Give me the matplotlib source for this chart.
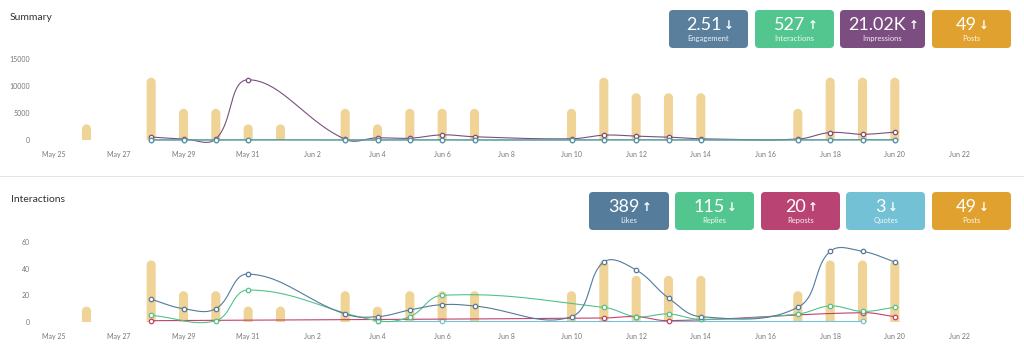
import numpy as np
import matplotlib
matplotlib.use("Agg")
import matplotlib.pyplot as plt
from matplotlib.path import Path
from matplotlib.patches import PathPatch, FancyBboxPatch

plt.rcParams['font.family'] = ['Lato', 'DejaVu Sans']

# days counted from May 25
tick_days = list(range(0, 29, 2))
tick_labels = ["May 25", "May 27", "May 29", "May 31", "Jun 2", "Jun 4", "Jun 6", "Jun 8",
               "Jun 10", "Jun 12", "Jun 14", "Jun 16", "Jun 18", "Jun 20", "Jun 22"]

post_days = [1, 3, 4, 5, 6, 7, 9, 10, 11, 12, 13, 16, 17, 18, 19, 20, 23, 24, 25, 26]
posts = [1, 4, 2, 2, 1, 1, 2, 1, 2, 2, 2, 2, 4, 3, 3, 3, 2, 4, 4, 4]

data_days = [3, 4, 5, 6, 9, 10, 11, 12, 13, 16, 17, 18, 19, 20, 23, 24, 25, 26]
impressions = [550, 200, 200, 11150, 130, 400, 330, 950, 600, 230, 900, 720, 540, 220, 180, 1380, 1060, 1450]
interactions = [23, 10, 11, 60, 6, 6, 13, 34, 12, 4, 59, 47, 25, 6, 17, 65, 69, 60]
engagement = [4.2, 5.0, 5.5, 0.5, 4.6, 1.5, 3.9, 3.6, 2.0, 1.7, 6.6, 6.5, 4.6, 2.7, 9.4, 4.7, 6.5, 4.1]

nan = np.nan
likes = [17, 10, 10, 36, 6, 4, 9, 13, 12, 4, 45, 39, 18, 4, 11, 53, 53, 45]
replies = [5, nan, 1, 24, nan, 1, 4, 20, nan, nan, 11, 4, 6, 2, 6, 12, 8, 11]
reposts = [1, nan, nan, nan, nan, nan, nan, nan, nan, nan, 3, 4, 1, nan, nan, nan, 7, 4]
quotes = [nan, nan, nan, nan, nan, 1, nan, 1, nan, nan, nan, nan, nan, nan, nan, nan, 1, nan]

summary_cards = [("2.51", "↓", "Engagement", "#5a7f9d"),
                 ("527", "↑", "Interactions", "#53c68f"),
                 ("21.02K", "↑", "Impressions", "#7b4d80"),
                 ("49", "↓", "Posts", "#e0a12f")]
inter_cards = [("389", "↑", "Likes", "#567c9b"),
               ("115", "↓", "Replies", "#53c68f"),
               ("20", "↑", "Reposts", "#b94474"),
               ("3", "↓", "Quotes", "#72c1d4"),
               ("49", "↓", "Posts", "#e0a12f")]

W, H = 1024, 356
fig = plt.figure(figsize=(W / 100, H / 100), dpi=100)

# overlay in pixel units for titles, cards, separator
bg = fig.add_axes([0, 0, 1, 1])
bg.set_xlim(0, W)
bg.set_ylim(H, 0)
bg.axis("off")

bar_color = "#efd397"


def px_axes(x0, x1, y_top, y_bot):
    return [x0 / W, 1 - y_bot / H, (x1 - x0) / W, (y_bot - y_top) / H]


def spline(ax, xs, ys, t=0.4, n=40):
    xs = np.asarray(xs, float)
    ys = np.asarray(ys, float)
    ok = ~np.isnan(ys)
    xs, ys = xs[ok], ys[ok]
    o = ax.transData.transform([[0, 0]])[0]
    sx = ax.transData.transform([[1, 0]])[0][0] - o[0]
    sy = ax.transData.transform([[0, 1]])[0][1] - o[1]
    P = np.column_stack([xs * sx, ys * sy])
    m = len(P)
    prev_c = np.zeros_like(P)
    next_c = np.zeros_like(P)
    for i in range(m):
        p0 = P[i - 1] if i > 0 else P[i]
        p1 = P[i]
        p2 = P[i + 1] if i < m - 1 else P[i]
        d01 = np.hypot(*(p1 - p0))
        d12 = np.hypot(*(p2 - p1))
        tot = d01 + d12
        s01 = d01 / tot if tot else 0
        s12 = d12 / tot if tot else 0
        prev_c[i] = p1 - t * s01 * (p2 - p0)
        next_c[i] = p1 + t * s12 * (p2 - p0)
    out = [P[:1]]
    u = np.linspace(0, 1, n)[:, None]
    for i in range(m - 1):
        a, b, c, d = P[i], next_c[i], prev_c[i + 1], P[i + 1]
        seg = (1 - u) ** 3 * a + 3 * (1 - u) ** 2 * u * b + 3 * (1 - u) * u ** 2 * c + u ** 3 * d
        out.append(seg[1:])
    pts = np.vstack(out)
    return pts[:, 0] / sx, pts[:, 1] / sy, xs, ys


def draw_series(ax, xs, ys, color, z):
    cx, cy, px, py = spline(ax, xs, ys)
    ax.plot(cx, cy, color=color, lw=0.8, zorder=z, clip_on=False)
    ax.plot(px, py, "o", ms=3.2, mfc="white", mec=color, mew=0.9, zorder=z + 0.5, clip_on=False)


def rounded_bars(ax, xs, hs, width):
    bars = ax.bar(xs, hs, width=width, color=bar_color)
    o = ax.transData.transform([[0, 0]])[0]
    sx = ax.transData.transform([[1, 0]])[0][0] - o[0]
    sy = ax.transData.transform([[0, 1]])[0][1] - o[1]
    k = 0.5523
    for r in bars:
        x, w, h = r.get_x(), r.get_width(), r.get_height()
        rx = w / 2
        ry = rx * sx / sy
        verts = [(x, 0), (x, h - ry),
                 (x, h - ry + k * ry), (x + rx - k * rx, h), (x + rx, h),
                 (x + rx + k * rx, h), (x + w, h - ry + k * ry), (x + w, h - ry),
                 (x + w, 0), (x, 0)]
        codes = [Path.MOVETO, Path.LINETO,
                 Path.CURVE4, Path.CURVE4, Path.CURVE4,
                 Path.CURVE4, Path.CURVE4, Path.CURVE4,
                 Path.LINETO, Path.CLOSEPOLY]
        ax.add_patch(PathPatch(Path(verts, codes), facecolor=bar_color, edgecolor="none"))
        r.set_visible(False)


def chart(y_top, y_bot, ymax, yticks):
    pos = px_axes(38, 1008, y_top, y_bot)
    axb = fig.add_axes(pos)
    axb.set_xlim(-0.5, 29.5)
    axb.set_ylim(0, 5.2)
    axb.axis("off")
    rounded_bars(axb, post_days, posts, 0.28)

    ax = fig.add_axes(pos)
    ax.patch.set_visible(False)
    ax.set_xlim(-0.5, 29.5)
    ax.set_ylim(0, ymax)
    for s in ax.spines.values():
        s.set_visible(False)
    ax.axhline(0, color="#dddddd", lw=0.8, zorder=0.5)
    ax.set_xticks(tick_days)
    ax.set_xticklabels(tick_labels)
    ax.set_yticks(yticks)
    ax.tick_params(length=0, labelsize=5, labelcolor="#777777")
    ax.tick_params(axis="x", pad=8)
    ax.tick_params(axis="y", pad=6)
    return ax


def cards(specs, y_top):
    if len(specs) == 4:
        xs, widths = [669, 755, 840, 932], [79, 79, 85, 79]
    else:
        xs, widths = [589, 675, 761, 846, 932], [80, 79, 79, 79, 79]
    for (val, arrow, label, col), x0, w in zip(specs, xs, widths):
        bg.add_patch(FancyBboxPatch((x0, y_top), w, 38, boxstyle="round,pad=0,rounding_size=4",
                                    facecolor=col, edgecolor="none"))
        cx = x0 + w / 2
        t = bg.text(cx - 5, y_top + 14.5, val, ha="center", va="center", color="white",
                    fontsize=13)
        bg.annotate(arrow, xy=(1, 0.5), xycoords=t, xytext=(1.5, -0.5), textcoords="offset points",
                    ha="left", va="center", color="white", fontsize=8.5, fontweight="bold",
                    family=["DejaVu Sans"])
        bg.text(cx, y_top + 28.5, label, ha="center", va="center", color="white", fontsize=5.5,
                alpha=0.9)


bg.text(10, 17, "Summary", ha="left", va="center", fontsize=7.5, color="#333333")
bg.text(11, 200, "Interactions", ha="left", va="center", fontsize=7.5, color="#333333")
bg.plot([0, W], [176, 176], color="#e4e4e4", lw=0.8)
cards(summary_cards, 10)
cards(inter_cards, 192)

ax1 = chart(59, 140, 15000, [0, 5000, 10000, 15000])
draw_series(ax1, data_days, impressions, "#7b4f80", 3)
draw_series(ax1, data_days, interactions, "#52c28c", 4)
draw_series(ax1, data_days, engagement, "#5f8fa8", 5)

ax2 = chart(242, 322, 60, [0, 20, 40, 60])
draw_series(ax2, data_days, quotes, "#74c3d6", 3)
draw_series(ax2, data_days, reposts, "#c0436d", 4)
draw_series(ax2, data_days, replies, "#52c28c", 5)
draw_series(ax2, data_days, likes, "#557a9b", 6)

fig.savefig("out.png", dpi=100)
